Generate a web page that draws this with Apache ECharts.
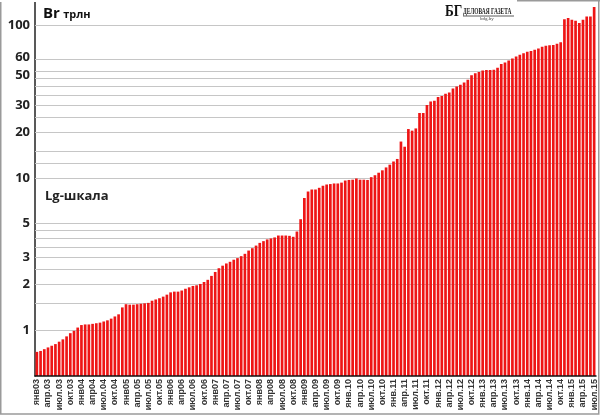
<!DOCTYPE html>
<html>
<head>
<meta charset="utf-8">
<script src="https://cdn.jsdelivr.net/npm/echarts@6/dist/echarts.min.js"></script>
<style>
  html, body { margin: 0; padding: 0; background: #fff; }
  #chart { width: 600px; height: 417px; }
</style>
</head>
<body>
<div id="chart"></div>
<script>
// Денежная масса, Br трлн, помесячно янв.2003 - июл.2015
const monthNames = ["янв", "фев", "мар", "апр", "май", "июн", "июл", "авг", "сен", "окт", "ноя", "дек"];
const years = ["03", "04", "05", "06", "07", "08", "09", "10", "11", "12", "13", "14", "15"];

// подписи оси X (каждый третий месяц)
const tickLabels = [
  "янв03", "апр.03", "июл.03", "окт.03",
  "янв04", "апр04", "июл.04", "окт.04",
  "янв05", "апр.05", "июл.05", "окт.05",
  "янв06", "апр06", "июл.06", "окт.06",
  "янв07", "апр.07", "июл.07", "окт.07",
  "янв08", "апр08", "июл.08", "окт.08",
  "янв09", "апр.09", "июл.09", "окт.09",
  "янв.10", "апр.10", "июл.10", "окт.10",
  "янв.11", "апр.11", "июл.11", "окт.11",
  "янв.12", "апр.12", "июл.12", "окт.12",
  "янв.13", "апр.13", "июл.13", "окт.13",
  "янв.14", "апр.14", "июл.14", "окт.14",
  "янв.15", "апр.15", "июл.15"
];

const values2003 = [0.72, 0.73, 0.75, 0.77, 0.79, 0.81, 0.84, 0.87, 0.91, 0.955, 0.99, 1.04];
const values2004 = [1.08, 1.09, 1.09, 1.10, 1.11, 1.12, 1.14, 1.16, 1.19, 1.23, 1.27, 1.41];
const values2005 = [1.48, 1.47, 1.47, 1.48, 1.49, 1.50, 1.51, 1.56, 1.59, 1.62, 1.66, 1.71];
const values2006 = [1.77, 1.79, 1.79, 1.82, 1.87, 1.91, 1.95, 1.97, 2.01, 2.07, 2.14, 2.27];
const values2007 = [2.41, 2.55, 2.65, 2.74, 2.81, 2.90, 2.97, 3.06, 3.17, 3.33, 3.45, 3.59];
const values2008 = [3.74, 3.84, 3.94, 4.00, 4.06, 4.18, 4.18, 4.18, 4.16, 4.10, 4.44, 5.35];
const values2009 = [7.37, 8.13, 8.38, 8.38, 8.60, 8.87, 9.04, 9.10, 9.18, 9.18, 9.30, 9.60];
const values2010 = [9.68, 9.72, 9.90, 9.72, 9.72, 9.68, 10.1, 10.4, 10.8, 11.2, 11.7, 12.2];
const values2011 = [12.8, 13.3, 17.3, 16.0, 20.9, 20.4, 21.1, 26.6, 26.6, 30.1, 31.7, 32.0];
const values2012 = [33.9, 34.5, 35.6, 36.3, 38.6, 39.8, 40.9, 42.3, 44.0, 47.2, 48.5, 49.5];
const values2013 = [50.6, 51.0, 51.0, 51.3, 52.8, 55.9, 57.1, 58.9, 60.7, 62.6, 64.2, 65.8];
const values2014 = [67.2, 67.9, 69.4, 70.5, 72.4, 73.5, 74.3, 74.5, 76.0, 77.7, 110, 112];
const values2015 = [109, 107.5, 104, 109, 114.6, 114.6, 132];

// линии сетки и подписанные значения оси Y
const gridValues = [1, 1.5, 2, 2.5, 3, 3.5, 4, 4.5, 5, 10, 12.5, 15, 20, 25, 30, 35, 40, 45, 50, 60, 100];
const labeledValues = [1, 2, 3, 5, 10, 20, 30, 50, 60, 100];

const moneyValues = [].concat(values2003, values2004, values2005, values2006, values2007,
  values2008, values2009, values2010, values2011, values2012, values2013, values2014, values2015);

const categories = [];
years.forEach(y => monthNames.forEach(m => categories.push(m + "." + y)));
categories.length = moneyValues.length;

const chart = echarts.init(document.getElementById("chart"));

// в оригинале подписи 60 и 50 чуть разнесены
const labelShift = { 60: [0, -2], 50: [0, 4] };
const gridLines = gridValues.map(v => ({
  yAxis: v,
  label: { show: labeledValues.indexOf(v) >= 0, offset: labelShift[v] || [0, 0] }
}));

const option = {
  animation: false,
  backgroundColor: "#fff",
  grid: { left: 35, right: 4, top: 0, bottom: 41 },
  xAxis: {
    type: "category",
    data: categories,
    z: 3,
    axisLine: { lineStyle: { color: "#111", width: 1.5 } },
    axisTick: { show: false },
    axisLabel: {
      interval: 2,
      rotate: 90,
      margin: 3,
      fontSize: 9,
      fontWeight: "bold",
      fontFamily: "Liberation Sans, Arial, sans-serif",
      color: "#333",
      formatter: (val, idx) => tickLabels[idx / 3] || ""
    }
  },
  yAxis: {
    type: "log",
    logBase: 10,
    min: 0.5,
    max: 147,
    startValue: 0.5,
    axisLine: { show: true, lineStyle: { color: "#222", width: 1.5 } },
    axisTick: { show: false },
    axisLabel: { show: false },
    splitLine: { show: false }
  },
  series: [{
    type: "bar",
    data: moneyValues,
    z: 2,
    barCategoryGap: "28%",
    itemStyle: { color: "#ee1515" },
    markLine: {
      z: 1,
      silent: true,
      symbol: ["none", "none"],
      animation: false,
      lineStyle: { color: "#c6c6c6", type: "solid", width: 1.2 },
      label: {
        position: "start",
        distance: 5,
        formatter: p => String(p.value),
        fontSize: 13,
        fontWeight: "bold",
        fontFamily: "Open Sans, Liberation Sans, sans-serif",
        color: "#222"
      },
      emphasis: { disabled: true },
      data: gridLines
    }
  }],
  graphic: [
    // рамка
    { type: "rect", z: 10, silent: true, shape: { x: 0.75, y: -2, width: 598, height: 416 },
      style: { fill: "none", stroke: "#9a9a9a", lineWidth: 1.5 } },
    { type: "rect", z: 11, silent: true, shape: { x: 0, y: 0, width: 517, height: 2 },
      style: { fill: "#fff" } },
    { type: "line", z: 11, silent: true, shape: { x1: 517, y1: 0.75, x2: 600, y2: 0.75 },
      style: { stroke: "#9a9a9a", lineWidth: 1.5 } },
    // заголовок
    { type: "text", left: 43, top: 6, z: 12,
      style: {
        text: "{a|Br} {b|трлн}",
        rich: {
          a: { fontSize: 15, fontWeight: "bold", fontFamily: "Open Sans, sans-serif", fill: "#111" },
          b: { fontSize: 11, fontWeight: "bold", fontFamily: "Open Sans, sans-serif", fill: "#111", padding: [3, 0, 0, 0] }
        }
      } },
    { type: "text", left: 45, top: 190, z: 12,
      style: { text: "Lg-шкала", fontSize: 13, fontWeight: "bold", fontFamily: "Open Sans, sans-serif", fill: "#222" } },
    // логотип
    { type: "group", left: 444, top: 1, z: 12, children: [
      { type: "rect", shape: { x: 0, y: 0, width: 72, height: 21 }, style: { fill: "#fff" } },
      { type: "text", x: 1, y: 2, scaleX: 0.78, style: { text: "БГ", fontSize: 17, fontWeight: "bold",
        fontFamily: "Liberation Serif, DejaVu Serif, serif", fill: "#111" } },
      { type: "text", x: 19, y: 7, scaleX: 0.68, style: { text: "ДЕЛОВАЯ ГАЗЕТА", fontSize: 8, fontWeight: "bold",
        fontFamily: "Liberation Serif, DejaVu Serif, serif", fill: "#222" } },
      { type: "line", shape: { x1: 19, y1: 15, x2: 70, y2: 15 }, style: { stroke: "#333", lineWidth: 0.8 } },
      { type: "text", x: 36, y: 15.5, style: { text: "bdg.by", fontSize: 5, fontFamily: "Liberation Serif, serif", fill: "#444" } }
    ] }
  ]
};

chart.setOption(option);
window.addEventListener("resize", () => chart.resize());
</script>
</body>
</html>
